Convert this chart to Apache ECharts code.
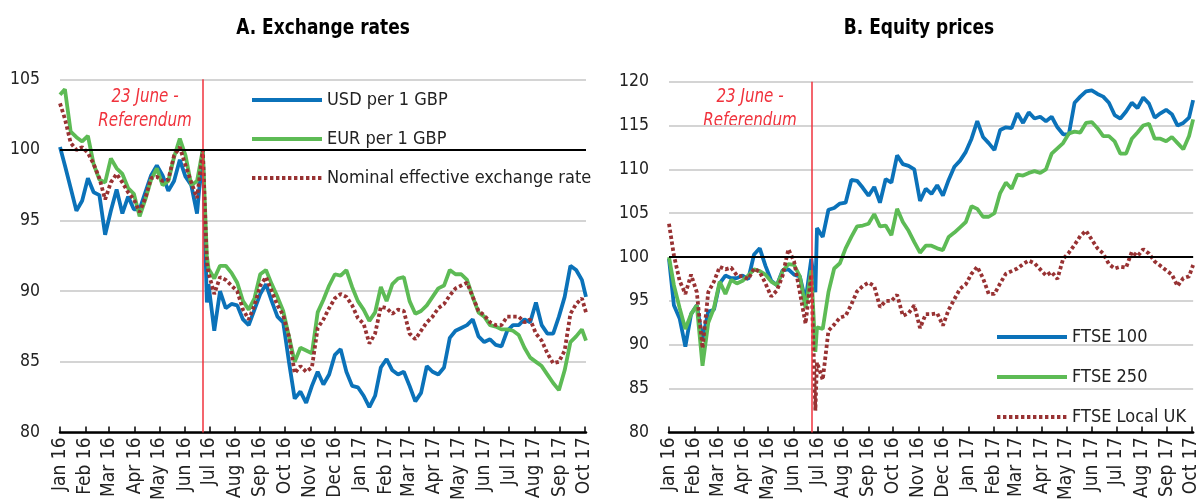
<!DOCTYPE html>
<html>
<head>
<meta charset="utf-8">
<script src="https://cdn.jsdelivr.net/npm/echarts@6/dist/echarts.min.js"></script>
<style>
  html, body { margin: 0; padding: 0; background: #fff; }
  #chart { width: 1201px; height: 503px; }
</style>
</head>
<body>
<div id="chart"></div>
<script>
// ---------- DATA ----------
// Axis: every calendar day from 1 Jan 2016 to 3 Oct 2017 (category axis, one slot per day)
const axisStart = Date.UTC(2016, 0, 1);
const axisDays = 642;
const monthNames = ['Jan','Feb','Mar','Apr','May','Jun','Jul','Aug','Sep','Oct','Nov','Dec'];

// Sampling days (offset from 1 Jan 2016): start, weekly Thursdays, 27 Jun 2016, last day
const sampleDays = [0];
for (let d = 6; d <= 636; d += 7) { sampleDays.push(d); if (d === 174) sampleDays.push(179); }
sampleDays.push(641);

const referendumDate = '2016-06-23';

// Panel A: Exchange rates (index, 1 Jan 2016 = 100)
const usdPerGbp = [100.2,
  98.9, 97.3, 95.7, 96.4, 98.0, 97.0, 96.8, 94.0, 95.7, 97.2,
  95.5, 96.7, 95.8, 95.8, 97.0, 98.2, 98.9, 98.2, 97.1, 97.8,
  99.3, 98.1, 97.5, 95.5, 100.0, 89.2, 90.5, 87.2, 90.0, 88.8, 89.1,
  89.0, 88.0, 87.6, 88.7, 89.8, 90.5, 89.3, 88.2, 87.8, 85.0,
  82.4, 82.9, 82.1, 83.3, 84.3, 83.4, 84.1, 85.5, 85.9, 84.3,
  83.3, 83.2, 82.6, 81.8, 82.6, 84.6, 85.2, 84.4, 84.1, 84.3,
  83.3, 82.2, 82.8, 84.7, 84.3, 84.1, 84.6, 86.7, 87.2, 87.4,
  87.6, 88.0, 86.8, 86.4, 86.6, 86.2, 86.1, 87.2, 87.6, 87.6,
  88.0, 87.8, 89.2, 87.6, 87.0, 87.0, 88.2, 89.6, 91.8, 91.5,
  90.8, 89.6];
const eurPerGbp = [103.9,
  104.3, 101.3, 100.9, 100.6, 101.0, 99.0, 97.9, 97.7, 99.4, 98.7,
  98.3, 97.3, 96.9, 95.3, 96.5, 97.9, 98.7, 97.5, 97.8, 99.5,
  100.8, 99.6, 97.5, 97.8, 100.0, 92.5, 91.6, 90.9, 91.8, 91.8, 91.3,
  90.6, 89.3, 88.7, 89.5, 91.2, 91.5, 90.5, 89.6, 88.6, 86.8,
  85.0, 86.0, 85.8, 85.6, 88.5, 89.4, 90.4, 91.2, 91.1, 91.5,
  90.3, 89.3, 88.7, 87.9, 88.5, 90.3, 89.3, 90.5, 90.9, 91.0,
  89.3, 88.4, 88.6, 89.0, 89.6, 90.2, 90.4, 91.5, 91.2, 91.2,
  90.8, 89.6, 88.5, 88.2, 87.6, 87.5, 87.3, 87.3, 87.2, 86.9,
  86.0, 85.3, 85.0, 84.7, 84.1, 83.5, 83.0, 84.4, 86.4, 86.8,
  87.3, 86.5];
const neer = [103.3,
  102.2, 100.5, 100.0, 100.2, 99.8, 99.0, 98.0, 96.5, 97.7, 98.3,
  97.7, 97.0, 96.5, 95.6, 96.6, 98.0, 98.1, 97.8, 97.9, 99.6,
  100.2, 98.9, 97.7, 96.6, 100.0, 92.0, 91.3, 89.8, 91.0, 90.8, 90.4,
  90.0, 88.7, 88.0, 89.0, 90.4, 91.0, 90.0, 89.0, 88.3, 86.8,
  84.2, 84.7, 84.3, 84.6, 87.4, 88.0, 88.8, 89.5, 89.8, 89.6,
  89.0, 88.1, 87.7, 86.3, 87.0, 88.9, 88.8, 88.4, 88.7, 88.6,
  87.0, 86.6, 87.2, 87.8, 88.2, 88.8, 89.1, 89.7, 90.2, 90.4,
  90.6, 89.6, 88.6, 88.3, 87.8, 87.6, 87.6, 88.2, 88.2, 88.2,
  87.8, 88.0, 87.0, 86.5, 85.6, 84.9, 85.0, 85.8, 88.4, 89.1,
  89.5, 88.5];

// Panel B: Equity prices (index, 1 Jan 2016 = 100)
const ftse100 = [99.8,
  94.5, 93.0, 89.8, 93.5, 94.5, 90.6, 93.8, 94.0, 97.0, 97.9,
  97.6, 97.6, 97.9, 97.5, 100.3, 101.0, 99.0, 97.3, 96.8, 98.5,
  98.6, 98.0, 97.8, 95.0, 99.8, 96.0, 103.3, 102.3, 105.4, 105.6, 106.1,
  106.2, 108.8, 108.7, 107.9, 107.0, 108.0, 106.2, 108.9, 108.5, 111.6,
  110.6, 110.4, 110.0, 106.4, 107.8, 107.2, 108.2, 107.0, 108.8, 110.3,
  111.0, 112.0, 113.5, 115.5, 113.7, 113.0, 112.2, 114.5, 114.8, 114.7,
  116.4, 115.3, 116.5, 115.8, 116.0, 115.5, 116.0, 114.8, 114.0, 114.0,
  117.6, 118.3, 118.9, 119.0, 118.6, 118.3, 117.6, 116.2, 115.8, 116.6,
  117.6, 117.0, 118.2, 117.5, 115.9, 116.4, 116.8, 116.3, 115.0, 115.3,
  115.9, 117.9];
const ftse250 = [100.0,
  96.8, 94.2, 91.8, 93.5, 94.5, 87.6, 92.5, 94.2, 97.2, 95.8,
  97.4, 97.0, 97.3, 97.9, 98.6, 98.4, 98.0, 97.2, 96.8, 98.4,
  99.2, 99.1, 97.8, 94.2, 98.5, 89.2, 92.0, 91.8, 96.0, 98.7, 99.3,
  101.0, 102.3, 103.5, 103.6, 103.8, 104.9, 103.5, 103.6, 102.5, 105.5,
  104.0, 103.0, 101.7, 100.5, 101.3, 101.3, 101.0, 100.8, 102.3, 102.8,
  103.4, 104.0, 105.8, 105.5, 104.6, 104.6, 105.0, 107.3, 108.5, 107.8,
  109.4, 109.3, 109.6, 109.8, 109.6, 110.0, 111.8, 112.4, 113.0, 114.1,
  114.3, 114.2, 115.3, 115.4, 114.7, 113.8, 113.8, 113.2, 111.8, 111.8,
  113.5, 114.2, 115.0, 115.2, 113.5, 113.5, 113.2, 113.7, 113.0, 112.3,
  113.8, 115.7];
const ftseLocalUk = [103.8,
  100.2, 97.3, 95.8, 98.0, 96.0, 89.6, 96.0, 97.2, 98.9, 98.6,
  98.8, 97.9, 97.8, 97.5, 98.7, 98.3, 97.0, 95.5, 96.2, 97.9,
  100.9, 99.5, 96.0, 92.4, 98.0, 82.5, 88.0, 86.0, 91.6, 92.3, 93.1,
  93.3, 94.6, 96.1, 96.7, 97.1, 96.7, 94.3, 95.0, 95.0, 95.7,
  93.3, 93.6, 94.5, 91.9, 93.5, 93.5, 93.6, 92.2, 94.0, 95.2,
  96.4, 96.9, 98.1, 98.9, 97.6, 95.8, 95.8, 97.0, 98.1, 98.4,
  98.7, 99.2, 99.6, 99.3, 98.6, 97.9, 98.3, 97.5, 99.8, 100.5,
  101.4, 102.4, 103.0, 102.0, 101.0, 100.4, 99.2, 98.7, 98.9, 98.8,
  100.6, 100.1, 100.9, 100.4, 99.5, 99.0, 98.5, 98.0, 96.7, 97.6,
  97.8, 99.1];

// ---------- BUILD ----------
const categories = [];
for (let i = 0; i < axisDays; i++) {
  categories.push(new Date(axisStart + i * 86400000).toISOString().slice(0, 10));
}
const pairs = vals => vals.map((v, i) => [sampleDays[i], v]);

const FONT = '"DejaVu Sans Condensed", "DejaVu Sans", sans-serif';
const BLUE = '#0b72b9', GREEN = '#5dbb55', DRED = '#983233', RED = '#f0323c';
const isMonthStart = (idx, val) => typeof val === 'string' && val.slice(8) === '01';

function xAxis(gridIndex) {
  return {
    type: 'category', gridIndex, data: categories, boundaryGap: false,
    axisLine: { show: true, lineStyle: { color: '#000', width: 2.5 } },
    axisTick: { show: true, inside: true, length: 6, interval: isMonthStart, lineStyle: { color: '#000', width: 1.5 } },
    axisLabel: {
      interval: isMonthStart, rotate: 90, margin: 5, fontSize: 19, fontFamily: FONT, color: '#222',
      formatter: v => monthNames[+v.slice(5, 7) - 1] + ' ' + v.slice(2, 4)
    },
    splitLine: { show: false }
  };
}
function yAxis(gridIndex, min, max) {
  return {
    type: 'value', gridIndex, min, max, interval: 5,
    axisLine: { show: false }, axisTick: { show: false },
    axisLabel: { fontSize: 17.5, fontFamily: FONT, color: '#222', margin: 20 },
    splitLine: { show: true, lineStyle: { color: '#d4d4d4', width: 2 } }
  };
}
const markLines = {
  symbol: 'none', silent: true, animation: false, label: { show: false },
  data: [
    { xAxis: referendumDate, lineStyle: { color: RED, width: 1.5, type: 'solid' } },
    { yAxis: 100, lineStyle: { color: '#000', width: 2, type: 'solid' } }
  ]
};
function line(name, vals, color, xi, dotted, withMarks) {
  const s = {
    name, type: 'line', xAxisIndex: xi, yAxisIndex: xi, data: pairs(vals),
    symbol: 'none', showSymbol: false, smooth: false, color,
    lineStyle: { color, width: 3.8, type: dotted ? [3.4, 2.6] : 'solid' }
  };
  if (withMarks) s.markLine = markLines;
  return s;
}
const legendBase = {
  orient: 'vertical', itemWidth: 70, itemHeight: 14, itemGap: 15,
  itemStyle: { opacity: 0 },
  lineStyle: { width: 4 },
  textStyle: { fontSize: 18, fontFamily: FONT, color: '#222', lineHeight: 24 }
};
function refText(x) {
  return {
    type: 'text', x, y: 108.5, scaleX: 0.84, silent: true,
    style: { text: '23 June -\nReferendum', fill: RED, fontSize: 20, fontStyle: 'italic', fontFamily: FONT,
             align: 'center', verticalAlign: 'middle', lineHeight: 24 }
  };
}
function titleText(x, text) {
  return {
    type: 'text', x, y: 28, scaleX: 0.86, silent: true,
    style: { text, fill: '#000', fontSize: 22, fontWeight: 'bold', fontFamily: FONT, align: 'center', verticalAlign: 'middle' }
  };
}

const option = {
  animation: false,
  backgroundColor: '#fff',
  grid: [
    { left: 60, top: 79.3, width: 526, height: 362.4, containLabel: false },
    { left: 669, top: 81.7, width: 525, height: 359, containLabel: false }
  ],
  xAxis: [xAxis(0), xAxis(1)],
  yAxis: [yAxis(0, 80, 105), yAxis(1, 80, 120)],
  legend: [
    Object.assign({}, legendBase, { left: 245, top: 83, data: ['USD per 1 GBP', 'EUR per 1 GBP', 'Nominal effective exchange rate'] }),
    Object.assign({}, legendBase, { left: 990, top: 320, itemGap: 16, data: ['FTSE 100', 'FTSE 250', 'FTSE Local UK'] })
  ],
  graphic: [
    titleText(323, 'A. Exchange rates'),
    titleText(919, 'B. Equity prices'),
    refText(145),
    refText(750)
  ],
  series: [
    line('USD per 1 GBP', usdPerGbp, BLUE, 0, false, true),
    line('EUR per 1 GBP', eurPerGbp, GREEN, 0, false, false),
    line('Nominal effective exchange rate', neer, DRED, 0, true, false),
    line('FTSE 100', ftse100, BLUE, 1, false, true),
    line('FTSE 250', ftse250, GREEN, 1, false, false),
    line('FTSE Local UK', ftseLocalUk, DRED, 1, true, false)
  ]
};
const chart = echarts.init(document.getElementById('chart'), null, { renderer: 'canvas' });
chart.setOption(option);
</script>
</body>
</html>
